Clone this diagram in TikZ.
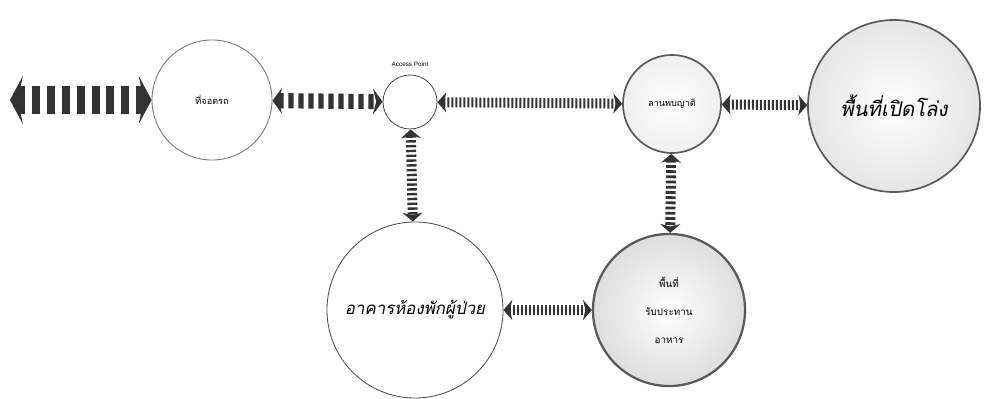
\documentclass[tikz,border=0pt]{standalone}
\usepackage{fontspec}
\newfontfamily\thaifont[Script=Thai]{Loma}
\newfontfamily\thaislant[Script=Thai,FakeSlant=0.2]{Loma}
\setsansfont{Liberation Sans}
\usetikzlibrary{arrows.meta}

\tikzset{
  zone/.style={circle, draw=black!70, line width=0.6pt, inner sep=0pt, align=center},
  shadedzone/.style={zone, inner color=white, outer color=black!10, draw=black!65, line width=1.2pt},
  link/.style={draw=black!80, line width=0.25cm, dash pattern=on 0.05cm off 0.05cm,
    {Stealth[length=0.22cm, width=0.5cm, inset=0.06cm]}-{Stealth[length=0.22cm, width=0.5cm, inset=0.06cm]}},
}

\begin{document}
\begin{tikzpicture}[x=0.025cm, y=-0.025cm]
\useasboundingbox (0,0) rectangle (985,399);

% zones
\node[zone, draw=black!55, minimum size=3cm, font=\thaifont\fontsize{6.5}{8}\selectfont] (parking) at (212,100) {ที่จอดรถ};
\node[zone, minimum size=1.35cm] (ap) at (410,102) {};
\node[font=\sffamily\fontsize{4.5}{5}\selectfont, anchor=south] (aplabel) at ([yshift=0.08cm]ap.north) {Access Point};
\node[shadedzone, outer color=black!6, minimum size=2.45cm, font=\thaifont\fontsize{6.5}{8}\selectfont] (lan) at (672,104) {ลานพบญาติ};
\node[shadedzone, minimum size=4.3cm, font=\thaislant\fontsize{14.5}{18}\selectfont] (openarea) at (894,106) {พื้นที่เปิดโล่ง};
\node[zone, minimum size=4.4cm, font=\thaislant\fontsize{12}{14}\selectfont] (ward) at (415,310) {อาคารห้องพักผู้ป่วย};
\node[shadedzone, outer color=black!13, line width=1.6pt, minimum size=3.8cm, font=\thaifont\fontsize{7}{20}\selectfont] (dining) at (669,310) {พื้นที่\\รับประทาน\\อาหาร};

\coordinate (farleft) at (10,100);

% links
\draw[link, line width=0.72cm, dash pattern=on 0.2cm off 0.17cm,
  {Stealth[length=0.32cm, width=1.2cm, inset=0.12cm]}-{Stealth[length=0.32cm, width=1.2cm, inset=0.12cm]}]
  (farleft) -- (parking);
\draw[link, line width=0.38cm, dash pattern=on 0.13cm off 0.12cm,
  {Stealth[length=0.24cm, width=0.65cm, inset=0.08cm]}-{Stealth[length=0.24cm, width=0.65cm, inset=0.08cm]}]
  (parking) -- (ap);
\draw[link] (ap) -- (lan);
\draw[link] (lan) -- (openarea);
\draw[link, dash pattern=on 0.06cm off 0.06cm] (ap) -- (ward);
\draw[link] (ward) -- (dining);
\draw[link, dash pattern=on 0.07cm off 0.06cm] (lan) -- (dining);
\end{tikzpicture}
\end{document}
